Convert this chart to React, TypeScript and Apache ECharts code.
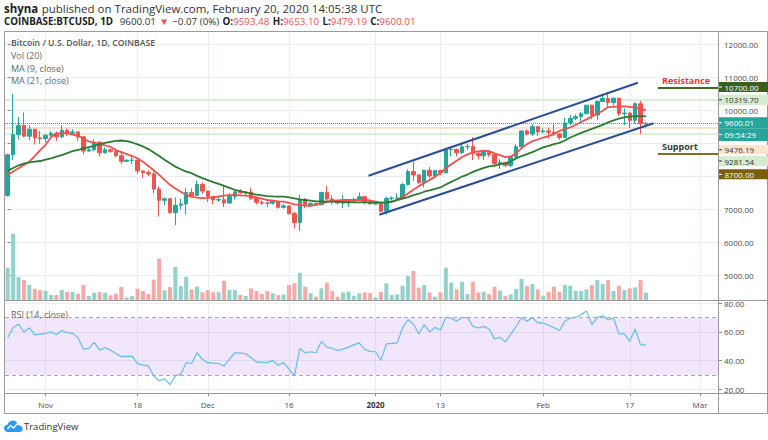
import { useEffect, useRef } from 'react';
import * as echarts from 'echarts';

// ---------- data ----------
const START_UTC = Date.UTC(2019, 9, 25);
const DAY_COUNT = 132;
const tickDays = [7, 24, 37, 52, 68, 80, 99, 115, 128];
const tickLabels = ['Nov', '18', 'Dec', '16', '2020', '13', 'Feb', '17', 'Mar'];

// [open, close, low, high]
const candles = [
  [7430, 8660, 7390, 8690], [8660, 9270, 8500, 10500], [9270, 9550, 9120, 9800], [9550, 9220, 9190, 9940],
  [9220, 9430, 9100, 9550], [9430, 9170, 8970, 9440], [9170, 9150, 8990, 9380], [9150, 9250, 9030, 9280],
  [9250, 9310, 9210, 9380], [9310, 9200, 9070, 9360], [9200, 9400, 9160, 9550], [9400, 9310, 9220, 9450],
  [9310, 9350, 9280, 9430], [9350, 9200, 9080, 9370], [9200, 8770, 8680, 9220], [8770, 8810, 8750, 8860],
  [8810, 9040, 8760, 9120], [9040, 8720, 8600, 9070], [8720, 8810, 8690, 8880], [8810, 8760, 8720, 8840],
  [8760, 8630, 8580, 8790], [8630, 8460, 8370, 8770], [8460, 8490, 8440, 8530], [8490, 8500, 8380, 8650],
  [8500, 8170, 8080, 8500], [8170, 8120, 7960, 8180], [8120, 8080, 8010, 8190], [8080, 7620, 7490, 8140],
  [7620, 7280, 6790, 7700], [7280, 7330, 7130, 7370], [7330, 6910, 6880, 7340], [6910, 7130, 6530, 7370],
  [7130, 7170, 7000, 7330], [7170, 7520, 6850, 7650], [7520, 7430, 7370, 7640], [7430, 7760, 7410, 7880],
  [7760, 7560, 7480, 7820], [7560, 7400, 7230, 7570], [7400, 7290, 7160, 7410], [7290, 7300, 7230, 7410],
  [7300, 7200, 7080, 7750], [7200, 7400, 7170, 7490], [7400, 7540, 7310, 7580], [7540, 7510, 7470, 7620],
  [7510, 7530, 7420, 7560], [7530, 7340, 7290, 7650], [7340, 7220, 7160, 7390], [7220, 7200, 7130, 7280],
  [7200, 7190, 7080, 7250], [7190, 7250, 7150, 7300], [7250, 7070, 7030, 7270], [7070, 7110, 7030, 7170],
  [7110, 6880, 6850, 7130], [6880, 6610, 6430, 6930], [6610, 7290, 6360, 7440], [7290, 7150, 7040, 7350],
  [7150, 7190, 7090, 7220], [7190, 7150, 7120, 7200], [7150, 7520, 7130, 7530], [7520, 7320, 7260, 7720],
  [7320, 7250, 7150, 7430], [7250, 7200, 7150, 7270], [7200, 7200, 7050, 7440], [7200, 7250, 7080, 7270],
  [7250, 7310, 7250, 7360], [7310, 7390, 7290, 7520], [7390, 7220, 7160, 7420], [7220, 7170, 7150, 7320],
  [7170, 7180, 7150, 7240], [7180, 6950, 6910, 7210], [6950, 7340, 6850, 7400], [7340, 7350, 7270, 7400],
  [7350, 7350, 7320, 7500], [7350, 7760, 7350, 7800], [7760, 8150, 7730, 8210], [8150, 8050, 7870, 8450],
  [8050, 7820, 7770, 8050], [7820, 8190, 7670, 8200], [8190, 8020, 7960, 8290], [8020, 8180, 7980, 8190],
  [8180, 8110, 8050, 8200], [8110, 8810, 8100, 8880], [8810, 8820, 8610, 8900], [8820, 8720, 8610, 8850],
  [8720, 8900, 8680, 9010], [8900, 8910, 8800, 8990], [8910, 8700, 8500, 9190], [8700, 8630, 8520, 8730],
  [8630, 8730, 8500, 8770], [8730, 8660, 8600, 8800], [8660, 8390, 8300, 8670], [8390, 8430, 8230, 8520],
  [8430, 8340, 8280, 8440], [8340, 8600, 8290, 8610], [8600, 8900, 8560, 8980], [8900, 9380, 8880, 9400],
  [9380, 9290, 9250, 9430], [9290, 9510, 9220, 9580], [9510, 9350, 9220, 9520], [9350, 9380, 9310, 9460],
  [9380, 9340, 9150, 9480], [9340, 9290, 9230, 9620], [9290, 9180, 9110, 9320], [9180, 9620, 9170, 9770],
  [9620, 9760, 9560, 9860], [9760, 9810, 9710, 9880], [9810, 9900, 9670, 9950], [9900, 10160, 9890, 10160],
  [10160, 9860, 9730, 10170], [9860, 10270, 9720, 10300], [10270, 10360, 10250, 10480], [10360, 10240, 10090, 10500],
  [10240, 10370, 10140, 10390], [10370, 9900, 9830, 10380], [9900, 9920, 9560, 10060], [9920, 9700, 9460, 9960],
  [9700, 10200, 9600, 10250], [10200, 9600, 9290, 10290], [9593.48, 9600.01, 9479.19, 9653.1],
];

const volumes = [
  19800, 40200, 14200, 12400, 9400, 7200, 6400, 6000, 3400, 3400,
  6400, 5400, 5200, 4200, 9400, 2800, 4800, 5200, 4800, 3200,
  4200, 8200, 2000, 2800, 7200, 5800, 4000, 12600, 25200, 6200,
  8200, 20200, 8800, 14400, 6800, 8400, 5100, 6300, 5100, 5100,
  12000, 6400, 6400, 3400, 2800, 7400, 5800, 4000, 5800, 4400,
  3400, 3800, 9400, 10400, 16800, 8400, 4400, 2400, 7400, 10800,
  5800, 2400, 5000, 5400, 3000, 4400, 5000, 4600, 2000, 5400,
  10400, 3400, 3800, 9000, 14800, 17800, 7800, 9400, 5000, 2400,
  5000, 19800, 10800, 6800, 11400, 4000, 11400, 5000, 5400, 4000,
  8400, 6000, 2800, 3800, 7000, 13000, 8800, 10000, 6800, 3000,
  5400, 8400, 5400, 9400, 9000, 6000, 5800, 6800, 9400, 12400,
  10000, 12400, 5800, 9000, 6400, 7400, 8000, 12400, 4800,
];

const ma9 = [
  8050, 8150, 8250, 8350, 8450, 8620, 8800, 8960, 9190, 9300,
  9310, 9310, 9270, 9230, 9150, 9060, 9020, 8985, 8940, 8900,
  8800, 8740, 8680, 8620, 8550, 8450, 8320, 8190, 8050, 7900,
  7750, 7640, 7540, 7440, 7390, 7360, 7350, 7355, 7370, 7400,
  7420, 7440, 7445, 7430, 7420, 7410, 7370, 7330, 7290, 7270,
  7250, 7240, 7200, 7160, 7140, 7120, 7110, 7140, 7180, 7230,
  7270, 7280, 7290, 7290, 7290, 7290, 7290, 7270, 7240, 7210,
  7210, 7230, 7300, 7380, 7490, 7600, 7710, 7800, 7900, 7990,
  8110, 8250, 8370, 8480, 8590, 8670, 8730, 8760, 8780, 8770,
  8700, 8650, 8590, 8610, 8700, 8860, 8980, 9070, 9120, 9180,
  9220, 9290, 9380, 9430, 9490, 9560, 9650, 9730, 9820, 9900,
  9990, 10100, 10110, 10120, 10120, 10110, 10090, 10040, 10010,
];

const ma21 = [
  8180, 8260, 8340, 8390, 8430, 8450, 8470, 8510, 8550, 8600,
  8650, 8710, 8770, 8810, 8850, 8890, 8930, 8980, 9020, 9050,
  9080, 9090, 9070, 9030, 8975, 8910, 8830, 8730, 8620, 8510,
  8400, 8300, 8220, 8150, 8100, 8020, 7950, 7890, 7830, 7780,
  7720, 7660, 7600, 7560, 7520, 7480, 7450, 7430, 7410, 7400,
  7395, 7390, 7370, 7340, 7310, 7290, 7270, 7250, 7245, 7240,
  7240, 7235, 7230, 7225, 7220, 7220, 7220, 7215, 7210, 7210,
  7215, 7240, 7285, 7330, 7380, 7440, 7480, 7540, 7580, 7630,
  7670, 7760, 7840, 7920, 8000, 8060, 8140, 8200, 8260, 8310,
  8330, 8370, 8400, 8460, 8550, 8620, 8680, 8740, 8810, 8880,
  8930, 8980, 9020, 9090, 9180, 9250, 9320, 9380, 9440, 9500,
  9560, 9640, 9700, 9750, 9790, 9810, 9830, 9830, 9820,
];

const rsi = [
  56, 63, 65.5, 60, 63, 58, 58.5, 59, 60, 58,
  61, 59.5, 59, 56, 48, 48.6, 52.8, 47.3, 49, 47.3,
  45, 42.8, 43, 43.2, 37.9, 37, 36.3, 29.4, 26, 27.3,
  23.2, 29.4, 30.6, 38.6, 38, 45.5, 40.9, 38.6, 38.3, 38,
  36.3, 41, 45.5, 45.2, 44.8, 42, 39.1, 38.8, 38.6, 40.2,
  36.8, 38.6, 34, 29.4, 48.5, 45.5, 46.2, 45.5, 53.5, 49.4,
  48.5, 47.1, 48, 49.4, 51, 52.4, 47.8, 46.5, 46.2, 40.2,
  51.7, 52, 52.4, 62.8, 68.5, 65.5, 58.6, 65.1, 60, 63.2,
  61.2, 70.3, 69.7, 67.4, 70.1, 70.1, 63.9, 62.8, 63.9, 62.1,
  55.2, 56.3, 53.1, 58.5, 64, 70.1, 67.4, 70.1, 66.3, 66.3,
  64.7, 63, 61, 67.4, 69.7, 70.3, 72, 74.7, 65.1, 70.1,
  71.3, 68.5, 69.7, 58.6, 58.6, 53.5, 62.1, 51, 51,
];

// trend channel drawn by the author: [day index, price]
const channelUpper = [[66.7, 8025], [116.5, 10838]];
const channelLower = [[68.7, 6846], [119.4, 9613]];
const levelStartDay = 120.2;
const resistanceLevel = 10700;
const supportLevel = 8700;
const priceLines = [10319.7, 9600.01, 9476.19, 9281.54];
const rsiBand = [30, 70];

// ---------- styling ----------
const FONT = '"Open Sans", "Noto Sans", sans-serif';
const UP = '#26a69a';
const DOWN = '#ef5350';
const UP_VOL = '#93d2cb';
const DOWN_VOL = '#f7a9a7';
const GRIDLINE = '#e8eef1';
const FRAME = '#9a9a9a';
const AXIS_TEXT = '#4a4a4a';

const categories: string[] = [];
for (let i = 0; i < DAY_COUNT; i++) {
  categories.push(new Date(START_UTC + i * 86400000).toISOString().slice(0, 10));
}
const tickSet = new Set(tickDays);
const tickText: Record<number, string> = {};
tickDays.forEach((d, i) => (tickText[d] = tickLabels[i]));
const showTick = (idx: number) => tickSet.has(idx);

const L = 5;
const R = 49;

function buildOption(): any {
  const catAxisHidden = (gridIndex: number) => ({
    type: 'category', gridIndex, data: categories, show: false, boundaryGap: true,
  });
  const catAxisBg = (gridIndex: number, withLabels: boolean) => ({
    type: 'category', gridIndex, data: categories, boundaryGap: true,
    axisLine: { show: false },
    axisTick: withLabels
      ? { show: true, interval: showTick, alignWithLabel: true, length: 3, lineStyle: { color: '#8a8a8a' } }
      : { show: false },
    axisLabel: withLabels
      ? {
          show: true, interval: showTick, margin: 7, fontSize: 8, fontFamily: FONT, color: AXIS_TEXT,
          formatter: (_v: string, idx: number) => (idx === 68 ? '{b|2020}' : tickText[idx] ?? ''),
          rich: { b: { fontWeight: 'bold', fontSize: 8, fontFamily: FONT, color: '#333' } },
        }
      : { show: false },
    splitLine: { show: true, interval: showTick, alignWithLabel: true, lineStyle: { color: GRIDLINE, width: 1 } },
  });

  const valueYAxisStyle = {
    position: 'right',
    axisLine: { show: false },
    axisTick: { show: true, length: 3, lineStyle: { color: '#8a8a8a' } },
    splitLine: { show: true, showMinLine: false, showMaxLine: false, lineStyle: { color: GRIDLINE, width: 1 } },
  };

  const boxes = [
    { text: resistanceLevel.toFixed(2), top: 82, h: 10, bg: '#3b5f1f', color: '#ffffff' },
    { text: priceLines[0].toFixed(2), top: 94.5, h: 10.5, bg: '#d6ecd0', color: '#333333' },
    { text: priceLines[1].toFixed(2), top: 117.3, h: 11, bg: UP, color: '#ffffff' },
    { text: '09:54:29', top: 128.3, h: 12.7, bg: UP, color: '#ffffff' },
    { text: priceLines[2].toFixed(2), top: 145, h: 9.6, bg: '#fde4cf', color: '#333333' },
    { text: priceLines[3].toFixed(2), top: 156, h: 10, bg: '#d6ecd0', color: '#333333' },
    { text: supportLevel.toFixed(2), top: 169.3, h: 10, bg: '#7a5f08', color: '#ffffff' },
  ];

  const graphics: any[] = [];
  // header
  graphics.push({
    type: 'text', x: 4, y: 8, z: 100,
    style: {
      text: '{b|shyna} {n|published on TradingView.com, February 20, 2020 14:05:38 UTC}',
      verticalAlign: 'middle',
      rich: {
        b: { fontFamily: FONT, fontSize: 11.5, fontWeight: 'bold', fill: '#222' },
        n: { fontFamily: FONT, fontSize: 11.5, fill: '#333' },
      },
    },
  });
  graphics.push({
    type: 'text', x: 4, y: 21, z: 100,
    style: {
      text:
        '{b|COINBASE:BTCUSD, 1D}  {n|9600.01} {r|▼} {n|−0.07 (0%)} {b|O:}{r|9593.48} {b|H:}{r|9653.10} {b|L:}{r|9479.19} {b|C:}{r|9600.01}',
      verticalAlign: 'middle',
      rich: {
        b: { fontFamily: FONT, fontSize: 9.8, fontWeight: 'bold', fill: '#222' },
        n: { fontFamily: FONT, fontSize: 9.8, fill: '#333' },
        r: { fontFamily: FONT, fontSize: 9.8, fill: DOWN },
      },
    },
  });
  // frame
  graphics.push({ type: 'rect', z: 90, shape: { x: 4.5, y: 31.5, width: 763, height: 382 }, style: { fill: 'none', stroke: FRAME, lineWidth: 1 } });
  graphics.push({ type: 'line', z: 90, shape: { x1: 718.5, y1: 31.5, x2: 718.5, y2: 413.5 }, style: { stroke: FRAME, lineWidth: 1 } });
  graphics.push({ type: 'line', z: 90, shape: { x1: 4.5, y1: 300.5, x2: 767.5, y2: 300.5 }, style: { stroke: FRAME, lineWidth: 1 } });
  graphics.push({ type: 'line', z: 90, shape: { x1: 4.5, y1: 393.5, x2: 767.5, y2: 393.5 }, style: { stroke: FRAME, lineWidth: 1 } });
  // legends inside panes
  const legendTexts = [
    { t: 'Bitcoin / U.S. Dollar, 1D, COINBASE', y: 43, s: 8.7, w: 600, c: '#555' },
    { t: 'Vol (20)', y: 55.5, s: 9, w: 'normal', c: '#666' },
    { t: 'MA (9, close)', y: 68, s: 9, w: 'normal', c: '#666' },
    { t: 'MA (21, close)', y: 80.5, s: 9, w: 'normal', c: '#666' },
    { t: 'RSI (14, close)', y: 314, s: 9, w: 'normal', c: '#666' },
  ];
  legendTexts.forEach((lt) =>
    graphics.push({
      type: 'text', x: 11, y: lt.y, z: 100,
      style: { text: lt.t, fontFamily: FONT, fontSize: lt.s, fontWeight: lt.w, fill: lt.c, verticalAlign: 'middle' },
    })
  );
  // annotations
  graphics.push({ type: 'text', x: 662, y: 80, z: 100, style: { text: 'Resistance', fontFamily: FONT, fontSize: 9, fontWeight: 'bold', fill: '#e53935', verticalAlign: 'middle' } });
  graphics.push({ type: 'text', x: 662, y: 146, z: 100, style: { text: 'Support', fontFamily: FONT, fontSize: 9, fontWeight: 'bold', fill: '#3a3a3a', verticalAlign: 'middle' } });
  // price tag boxes on the axis
  boxes.forEach((b) => {
    graphics.push({ type: 'rect', z: 95, shape: { x: 719, y: b.top, width: 49, height: b.h }, style: { fill: b.bg } });
    graphics.push({ type: 'line', z: 96, shape: { x1: 719, y1: b.top + b.h / 2, x2: 722, y2: b.top + b.h / 2 }, style: { stroke: b.color, lineWidth: 1 } });
    graphics.push({
      type: 'text', x: 724.5, y: b.top + b.h / 2, z: 96,
      style: { text: b.text, fontFamily: FONT, fontSize: 8, lineHeight: 9, fill: b.color, verticalAlign: 'middle' },
    });
  });
  // TradingView watermark
  graphics.push({
    type: 'tvcloud', x: 4, y: 420.5, scaleX: 0.78, scaleY: 0.82, z: 100,
    style: { fill: '#2a9bf0' },
  });
  graphics.push({
    type: 'polyline', z: 101,
    shape: { points: [[7.5, 429], [10.5, 425.5], [13.5, 428], [17.5, 423.5]] },
    style: { stroke: '#ffffff', lineWidth: 1.3, fill: 'none' },
  });
  graphics.push({
    type: 'text', x: 24, y: 426.5, z: 100,
    style: { text: 'TradingView', fontFamily: FONT, fontSize: 9.5, fontWeight: 500, fill: '#333', verticalAlign: 'middle' },
  });

  return {
    animation: false,
    backgroundColor: '#ffffff',
    textStyle: { fontFamily: FONT },
    grid: [
      { left: L, right: R, top: 31, height: 269.7 },          // 0 main pane background
      { left: L, right: R, top: 27.77, height: 281.01 },      // 1 price
      { left: L, right: R, top: 200.7, height: 100 },         // 2 volume
      { left: L, right: R, top: 300.7, height: 92.6 },        // 3 rsi pane background
      { left: L, right: R, top: 274.63, height: 143.34 },     // 4 rsi
    ],
    xAxis: [
      catAxisBg(0, false),
      catAxisHidden(1),
      { type: 'value', gridIndex: 1, min: -0.5, max: DAY_COUNT - 0.5, show: false },
      catAxisHidden(2),
      catAxisBg(3, true),
      catAxisHidden(4),
    ],
    yAxis: [
      { type: 'value', gridIndex: 0, show: false, splitLine: { show: false } },
      {
        type: 'value', gridIndex: 1, min: 4000, max: 12500, interval: 1000, ...valueYAxisStyle,
        axisLabel: {
          margin: 5, fontSize: 8, lineHeight: 8.5, fontFamily: FONT, color: AXIS_TEXT, showMinLabel: false, showMaxLabel: false,
          formatter: (v: number) => (v === 8000 || v === 9000 ? '' : v.toFixed(2)),
        },
      },
      { type: 'value', gridIndex: 2, show: false, min: 0, max: 60000, splitLine: { show: false } },
      { type: 'value', gridIndex: 3, show: false, splitLine: { show: false } },
      {
        type: 'value', gridIndex: 4, min: 0, max: 100, interval: 20, ...valueYAxisStyle,
        axisLabel: {
          margin: 5, fontSize: 8, fontFamily: FONT, color: AXIS_TEXT, showMinLabel: false, showMaxLabel: false,
          formatter: (v: number) => v.toFixed(2),
        },
      },
    ],
    graphic: { elements: graphics },
    series: [
      {
        type: 'bar', name: 'Vol', xAxisIndex: 3, yAxisIndex: 2, barWidth: 4,
        data: volumes.map((v, i) => ({
          value: v,
          itemStyle: { color: candles[i][1] >= candles[i][0] ? UP_VOL : DOWN_VOL },
        })),
      },
      {
        type: 'candlestick', name: 'BTCUSD', xAxisIndex: 1, yAxisIndex: 1, barWidth: 4,
        data: candles,
        itemStyle: { color: UP, color0: DOWN, borderColor: UP, borderColor0: DOWN, borderWidth: 1 },
        markLine: {
          silent: true, symbol: ['none', 'none'], label: { show: false }, z: 1,
          data: [
            { yAxis: priceLines[0], lineStyle: { color: '#d3e8cb', width: 1.5, type: 'solid' } },
            { yAxis: priceLines[1], lineStyle: { color: UP, width: 1, type: 'dotted' } },
            { yAxis: priceLines[2], lineStyle: { color: '#fbdabf', width: 1.5, type: 'solid' } },
            { yAxis: priceLines[3], lineStyle: { color: '#d3e8cb', width: 1.5, type: 'solid' } },
          ],
        },
      },
      {
        type: 'line', name: 'MA9', xAxisIndex: 1, yAxisIndex: 1, data: ma9, showSymbol: false,
        lineStyle: { color: '#f0504e', width: 1.8 }, z: 3,
      },
      {
        type: 'line', name: 'MA21', xAxisIndex: 1, yAxisIndex: 1, data: ma21, showSymbol: false,
        lineStyle: { color: '#2f7a33', width: 1.8 }, z: 3,
      },
      {
        type: 'line', name: 'channelUpper', xAxisIndex: 2, yAxisIndex: 1, data: channelUpper, showSymbol: false,
        lineStyle: { color: '#2b4c9b', width: 2 }, z: 4,
        markLine: {
          silent: true, symbol: ['none', 'none'], label: { show: false },
          data: [
            [
              { coord: [levelStartDay, resistanceLevel], lineStyle: { color: '#3d6b22', width: 2, type: 'solid' } },
              { coord: [DAY_COUNT - 0.5, resistanceLevel] },
            ],
            [
              { coord: [levelStartDay, supportLevel], lineStyle: { color: '#8a6c1a', width: 2, type: 'solid' } },
              { coord: [DAY_COUNT - 0.5, supportLevel] },
            ],
          ],
        },
      },
      {
        type: 'line', name: 'channelLower', xAxisIndex: 2, yAxisIndex: 1, data: channelLower, showSymbol: false,
        lineStyle: { color: '#2b4c9b', width: 2 }, z: 4,
      },
      {
        type: 'line', name: 'RSI', xAxisIndex: 5, yAxisIndex: 4, data: rsi, showSymbol: false,
        lineStyle: { color: '#62bdec', width: 1.2 },
        markArea: {
          silent: true,
          itemStyle: { color: 'rgba(190,130,245,0.2)' },
          data: [[{ yAxis: rsiBand[0] }, { yAxis: rsiBand[1] }]],
        },
        markLine: {
          silent: true, symbol: ['none', 'none'], label: { show: false },
          lineStyle: { color: '#a9a9a9', width: 1, type: [4, 3] },
          data: [{ yAxis: rsiBand[1] }, { yAxis: rsiBand[0] }],
        },
      },
    ],
  };
}

const LOGO_PATH =
  'M5 14 C2 14 0 12 0 9.5 C0 7 2 5.2 4.4 5.2 C5.3 2.2 8 0 11.2 0 C14.6 0 17.4 2.4 18 5.6 C21.3 5.8 24 8 24 10.5 C24 12.6 22.3 14 20 14 Z';
let logoRegistered = false;
function ensureLogo() {
  if (logoRegistered) return;
  echarts.graphic.registerShape('tvcloud', echarts.graphic.extendPath(LOGO_PATH, {}) as any);
  logoRegistered = true;
}

export default function App() {
  const ref = useRef<HTMLDivElement>(null);
  useEffect(() => {
    if (!ref.current) return;
    ensureLogo();
    const chart = echarts.init(ref.current, undefined, { renderer: 'svg' });
    chart.setOption(buildOption());
    return () => chart.dispose();
  }, []);
  return (
    <div
      ref={ref}
      style={{ position: 'fixed', left: 0, top: 0, width: 768, height: 440, background: '#ffffff' }}
    />
  );
}
